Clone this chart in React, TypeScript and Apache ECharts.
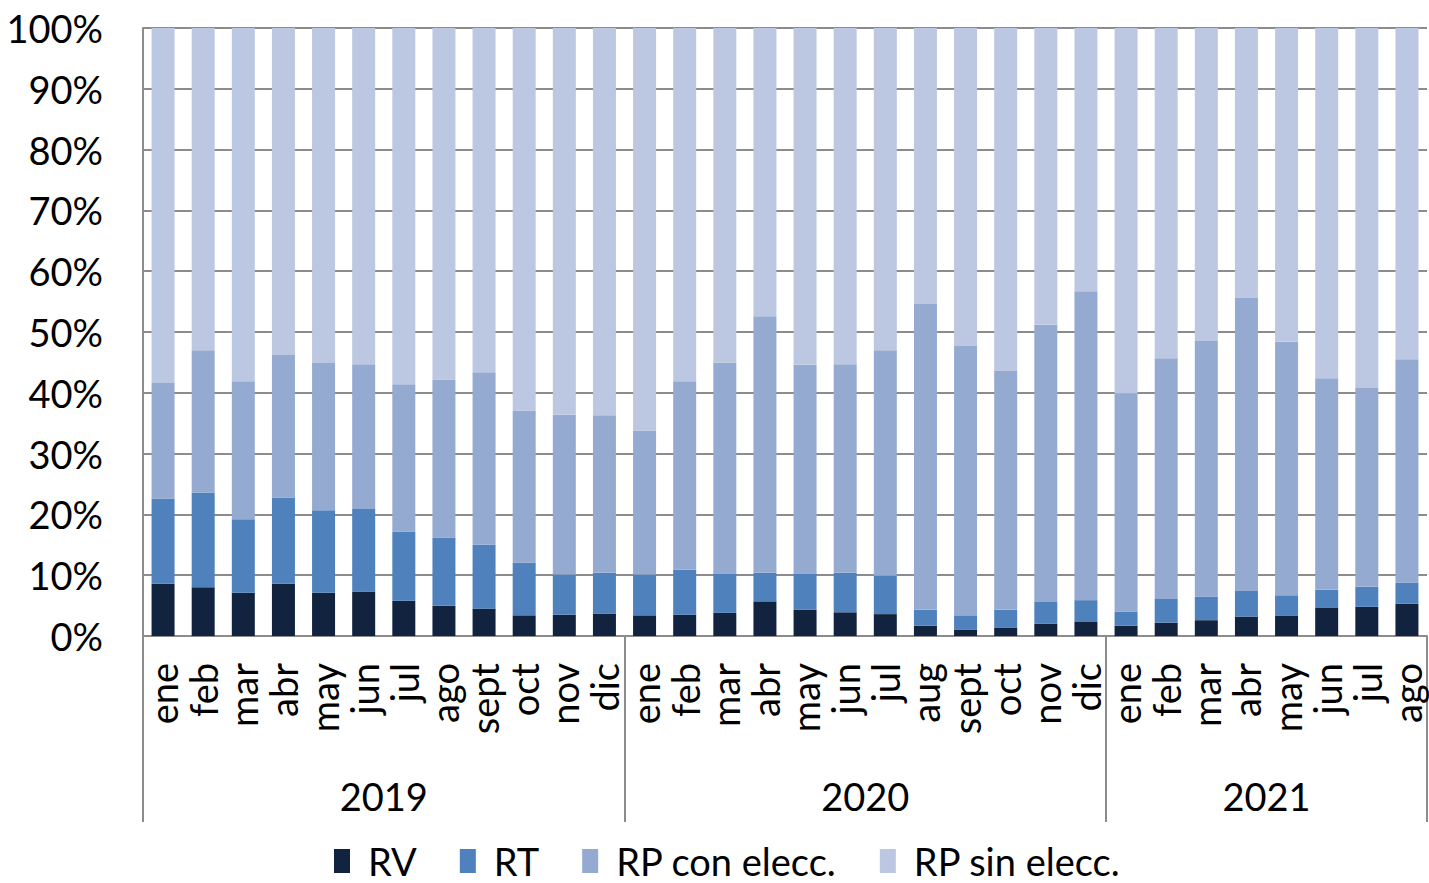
import React, { useEffect, useRef } from "react";
import * as echarts from "echarts";

const months = [
  "ene", "feb", "mar", "abr", "may", "jun", "jul", "ago", "sept", "oct", "nov", "dic",
  "ene", "feb", "mar", "abr", "may", "jun", "jul", "aug", "sept", "oct", "nov", "dic",
  "ene", "feb", "mar", "abr", "may", "jun", "jul", "ago",
];
const years = ["2019", "2020", "2021"];
const yearStart = [0, 12, 24];
const yearCount = [12, 12, 8];

const rv = [8.6, 8.0, 7.1, 8.6, 7.1, 7.3, 5.8, 5.0, 4.5, 3.4, 3.5, 3.7, 3.4, 3.5, 3.8, 5.7, 4.3, 3.9, 3.6, 1.7, 1.0, 1.4, 2.0, 2.4, 1.7, 2.2, 2.6, 3.2, 3.3, 4.7, 4.8, 5.3];
const rt = [14.0, 15.6, 12.1, 14.2, 13.6, 13.6, 11.4, 11.2, 10.5, 8.7, 6.6, 6.7, 6.7, 7.4, 6.5, 4.7, 6.0, 6.5, 6.3, 2.6, 2.4, 2.9, 3.6, 3.5, 2.3, 3.9, 3.9, 4.2, 3.4, 2.9, 3.3, 3.5];
const rpCon = [19.0, 23.4, 22.7, 23.4, 24.2, 23.8, 24.2, 26.0, 28.4, 25.0, 26.3, 25.9, 23.7, 31.0, 34.7, 42.2, 34.3, 34.3, 37.1, 50.3, 44.3, 39.3, 45.6, 50.8, 35.9, 39.6, 42.0, 48.2, 41.7, 34.8, 32.7, 36.7];
const rpSin = [58.4, 53.0, 58.1, 53.8, 55.1, 55.3, 58.6, 57.8, 56.6, 62.9, 63.6, 63.7, 66.2, 58.1, 55.0, 47.4, 55.4, 55.3, 53.0, 45.4, 52.3, 56.4, 48.8, 43.3, 60.1, 54.3, 51.5, 44.4, 51.6, 57.6, 59.2, 54.5];

const yTicks = [0, 10, 20, 30, 40, 50, 60, 70, 80, 90, 100];

const seriesNames = ["RV", "RT", "RP con elecc.", "RP sin elecc."];
const seriesData = [rv, rt, rpCon, rpSin];
const colors = ["#12233f", "#4f81bd", "#95aad1", "#bcc8e1"];

const FONT = "Lato";
const GRAY = "#8c8c8c";

export default function App() {
  const ref = useRef<HTMLDivElement>(null);
  useEffect(() => {
    if (!ref.current) return;
    const chart = echarts.init(ref.current, null, { renderer: "svg" });
    const boundaries = new Set(yearStart);
    chart.setOption({
      animation: false,
      grid: { left: 143, right: 2, top: 28, bottom: 247, containLabel: false },
      legend: {
        data: seriesNames,
        left: 334,
        top: 842,
        padding: 0,
        icon: "rect",
        itemWidth: 16,
        itemHeight: 24,
        itemGap: 43,
        textStyle: { fontSize: 38, lineHeight: 38, color: "#000", fontFamily: FONT, padding: [0, 0, 0, 13] },
      },
      xAxis: {
        type: "category",
        data: months,
        axisLine: { show: true, lineStyle: { color: GRAY, width: 2 } },
        axisTick: {
          show: true,
          interval: (i: number) => boundaries.has(i),
          length: 186,
          lineStyle: { color: GRAY, width: 2 },
        },
        axisLabel: {
          rotate: 90,
          interval: 0,
          margin: 27,
          fontSize: 38,
          color: "#000",
          fontFamily: FONT,
        },
      },
      yAxis: {
        type: "value",
        min: yTicks[0],
        max: yTicks[yTicks.length - 1],
        interval: 10,
        axisLine: { show: true, lineStyle: { color: GRAY, width: 2 } },
        axisTick: { show: false },
        splitLine: { show: true, lineStyle: { color: GRAY, width: 2 } },
        axisLabel: {
          formatter: "{value}%",
          margin: 40,
          fontSize: 38,
          color: "#000",
          fontFamily: FONT,
        },
      },
      series: seriesNames.map((name, k) => ({
        name,
        type: "bar",
        stack: "total",
        barWidth: 23,
        data: seriesData[k],
        itemStyle: { color: colors[k] },
      })),
    });
    const pos = (v: number) => chart.convertToPixel({ xAxisIndex: 0 }, v) as number;
    const graphics = years.map((y, i) => {
      const a = pos(yearStart[i]);
      const b = pos(yearStart[i] + yearCount[i] - 1);
      return {
        type: "text",
        x: (a + b) / 2,
        y: 796,
        style: {
          text: y,
          fontSize: 38,
          fontFamily: FONT,
          fill: "#000",
          align: "center",
          verticalAlign: "middle",
        },
      };
    });
    chart.setOption({ graphic: graphics });
    return () => chart.dispose();
  }, []);
  return (
    <div
      ref={ref}
      style={{ position: "fixed", left: 0, top: 0, width: 1429, height: 883, background: "#fff" }}
    />
  );
}
